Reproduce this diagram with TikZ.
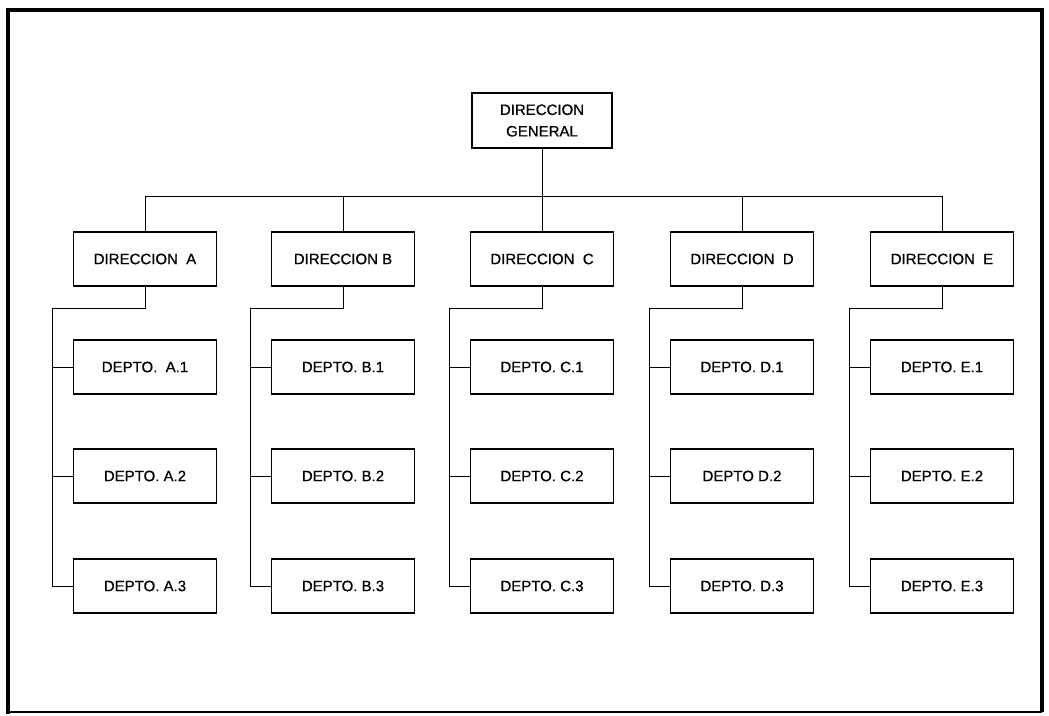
\documentclass[tikz,border=0pt]{standalone}
\usepackage{fontspec}
\setmainfont{Liberation Sans}
\newfontfamily\boxfont{Liberation Sans}[FakeBold=0.8]
\begin{document}
\begin{tikzpicture}[x=1pt,y=-1pt,
  box/.style={draw, line width=1.4pt, minimum width=143pt, minimum height=54pt, inner sep=0pt, align=center, font=\boxfont\fontsize{15}{21.5}\selectfont},
  link/.style={line width=0.9pt}]
\useasboundingbox (0,0) rectangle (1049,715);
\draw[line width=4pt] (8,10) -- (1042,10) -- (1042,712);
\draw[line width=4pt] (8,8) -- (8,714);
\draw[line width=2.5pt] (8,712) -- (1042,712);
% top
\node[box, minimum width=140pt, minimum height=55pt] (g) at (542,120.5) {DIRECCION\\GENERAL};
% direcciones
\node[box] (dA) at (145,259) {DIRECCION\ \ A};
\node[box] (dB) at (343,259) {DIRECCION B};
\node[box] (dC) at (542,259) {DIRECCION\ \ C};
\node[box] (dD) at (742,259) {DIRECCION\ \ D};
\node[box] (dE) at (942,259) {DIRECCION\ \ E};
% departamentos
\node[box] (a1) at (145,367) {DEPTO.\ \ A.1};
\node[box] (a2) at (145,476) {DEPTO. A.2};
\node[box] (a3) at (145,586) {DEPTO. A.3};
\node[box] (b1) at (343,367) {DEPTO. B.1};
\node[box] (b2) at (343,476) {DEPTO. B.2};
\node[box] (b3) at (343,586) {DEPTO. B.3};
\node[box] (c1) at (542,367) {DEPTO. C.1};
\node[box] (c2) at (542,476) {DEPTO. C.2};
\node[box] (c3) at (542,586) {DEPTO. C.3};
\node[box] (d1) at (742,367) {DEPTO. D.1};
\node[box] (d2) at (742,476) {DEPTO D.2};
\node[box] (d3) at (742,586) {DEPTO. D.3};
\node[box] (e1) at (942,367) {DEPTO. E.1};
\node[box] (e2) at (942,476) {DEPTO. E.2};
\node[box] (e3) at (942,586) {DEPTO. E.3};
% bus
\coordinate (bus) at (542,196);
\draw[link] (g.south) -- (bus);
\draw[link] (dA.north) -- (dA.north |- bus) -- (dE.north |- bus) -- (dE.north);
\draw[link] (dB.north) -- (dB.north |- bus);
\draw[link] (dC.north) -- (dC.north |- bus);
\draw[link] (dD.north) -- (dD.north |- bus);
% rails
\coordinate (rA) at (52,308);
\coordinate (rB) at (250,308);
\coordinate (rC) at (449,308);
\coordinate (rD) at (649,308);
\coordinate (rE) at (849,308);
\draw[link] (dA.south) |- (rA) -- (rA |- a3.west) -- (a3.west);
\draw[link] (rA |- a1.west) -- (a1.west);
\draw[link] (rA |- a2.west) -- (a2.west);
\draw[link] (dB.south) |- (rB) -- (rB |- b3.west) -- (b3.west);
\draw[link] (rB |- b1.west) -- (b1.west);
\draw[link] (rB |- b2.west) -- (b2.west);
\draw[link] (dC.south) |- (rC) -- (rC |- c3.west) -- (c3.west);
\draw[link] (rC |- c1.west) -- (c1.west);
\draw[link] (rC |- c2.west) -- (c2.west);
\draw[link] (dD.south) |- (rD) -- (rD |- d3.west) -- (d3.west);
\draw[link] (rD |- d1.west) -- (d1.west);
\draw[link] (rD |- d2.west) -- (d2.west);
\draw[link] (dE.south) |- (rE) -- (rE |- e3.west) -- (e3.west);
\draw[link] (rE |- e1.west) -- (e1.west);
\draw[link] (rE |- e2.west) -- (e2.west);
\end{tikzpicture}
\end{document}
